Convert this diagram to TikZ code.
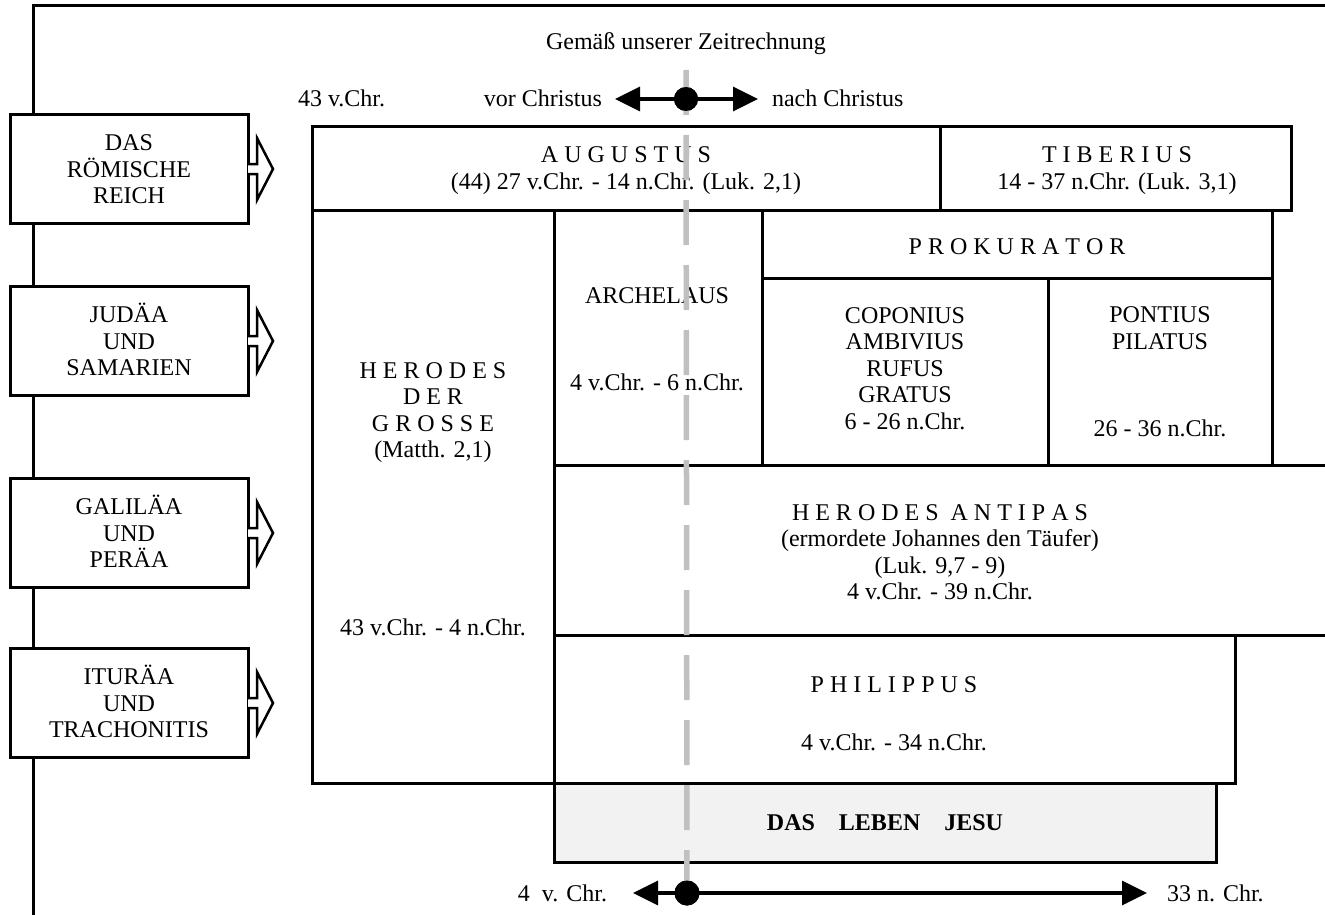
\documentclass[tikz,border=0pt]{standalone}
\usepackage{fontspec}
\setmainfont{Liberation Serif}
\usetikzlibrary{arrows.meta,calc}
\definecolor{dashgray}{HTML}{C0C0C0}
\definecolor{jesufill}{HTML}{F2F2F2}
\newcommand\cellbox[6][]{\node[cell,#1,minimum width={#5pt-#3pt},minimum height={#6pt-#4pt}] (#2) at ({(#3+#5)/2},{(#4+#6)/2}) {};}
\begin{document}
\begin{tikzpicture}[x=1pt,y=-1pt,
  every node/.style={font=\fontsize{24}{26.5}\selectfont, text height=18pt, text depth=2pt, inner sep=0pt, outer sep=0pt, align=center},
  ltwo/.style={text height=44.5pt},
  lthree/.style={text height=71pt},
  lfour/.style={text height=97.5pt},
  lfive/.style={text height=124pt},
  cell/.style={draw=black, line width=3pt, inner sep=0pt, outer sep=0pt},
  region/.style={draw=black, line width=3pt, fill=white, minimum width=238pt, minimum height=109pt, lthree},
  blockarrow/.style={draw=black, line width=2.5pt, fill=white, line join=miter},
  frameline/.style={draw=black, line width=3pt},
  timedash/.style={draw=dashgray, line width=5.5pt, dash pattern=on 45pt off 20pt},
  tarrow/.style={draw=black, line width=3.5pt, -{Triangle[length=25pt,width=24pt]}},
  dot/.style={circle, fill=black, minimum size=24pt, text height=0pt, text depth=0pt}
]
\useasboundingbox (0,0) rectangle (1325,915);

% outer frame
\coordinate (fb) at (33,915);
\coordinate (fc) at (33,6);
\coordinate (fr) at (1325,6);
\draw[frameline] (fb) -- (fc) -- (fr);

% region boxes with hollow arrows
\node[region] (r1) at (129,169) {DAS\\RÖMISCHE\\REICH};
\node[region] (r2) at (129,341) {JUDÄA\\UND\\SAMARIEN};
\node[region] (r3) at (129,533) {GALILÄA\\UND\\PERÄA};
\node[region] (r4) at (129,703) {ITURÄA\\UND\\TRACHONITIS};
\foreach \r in {r1,r2,r3,r4}{
  \draw[blockarrow] ($(\r.east)+(0,-5)$) -- ++(9,0) -- ++(0,-26) -- ++(16,31) -- ++(-16,31) -- ++(0,-26) -- ++(-9,0);
}

% title and top timeline labels
\node (title) at (686,42) {Gemäß unserer Zeitrechnung};
\node[anchor=west] (t43) at (298,99) {43 v.Chr.};
\node[anchor=east] (vor) at (602,99) {vor Christus};
\node[anchor=west] (nach) at (772,99) {nach Christus};

% table cells
\cellbox{aug}{312}{127}{940}{210}
\cellbox{tib}{940}{127}{1291}{210}
\cellbox{her}{312}{210}{554}{783}
\cellbox{arc}{554}{210}{762}{465}
\cellbox{pro}{762}{210}{1272}{278}
\cellbox{cop}{762}{278}{1048}{465}
\cellbox{pon}{1048}{278}{1272}{465}
\cellbox{ant}{554}{465}{1328}{635}
\cellbox{phi}{554}{635}{1235}{783}
\cellbox[fill=jesufill]{jes}{554}{783}{1216}{862}

% cell texts
\node[ltwo] (augT) at (626,168) {A U G U S T U S\\(44) 27 v.Chr. - 14 n.Chr. (Luk. 2,1)};
\node[ltwo] (tibT) at (1117,168) {T I B E R I U S\\14 - 37 n.Chr. (Luk. 3,1)};
\node[lfour] (herT) at (433,410) {H E R O D E S\\D E R\\G R O S S E\\(Matth. 2,1)};
\node (herD) at (433,627) {43 v.Chr. - 4 n.Chr.};
\node (arcT) at (657,295) {ARCHELAUS};
\node (arcD) at (657,382) {4 v.Chr. - 6 n.Chr.};
\node (proT) at (1017,246) {P R O K U R A T O R};
\node[lfive] (copT) at (905,368) {COPONIUS\\AMBIVIUS\\RUFUS\\GRATUS\\6 - 26 n.Chr.};
\node[ltwo] (ponT) at (1160,328) {PONTIUS\\PILATUS};
\node (ponD) at (1160,428) {26 - 36 n.Chr.};
\node[lfour] (antT) at (940,552) {H E R O D E S \ A N T I P A S\\(ermordete Johannes den Täufer)\\(Luk. 9,7 - 9)\\4 v.Chr. - 39 n.Chr.};
\node (phiT) at (894,684) {P H I L I P P U S};
\node (phiD) at (894,742) {4 v.Chr. - 34 n.Chr.};
\node[font=\fontsize{24}{26.5}\selectfont\bfseries] (jesT) at (885,822) {DAS\hspace{24pt}LEBEN\hspace{24pt}JESU};

% bottom labels
\node[anchor=east] (b4) at (607,893) {4~~v. Chr.};
\node[anchor=west] (b33) at (1167,893) {33 n. Chr.};

% dots and arrow ends
\node[dot] (dotA) at (686,99) {};
\node[dot, minimum size=25pt] (dotB) at (687,893) {};
\coordinate (dtop) at (686,70);
\coordinate (aL) at (615,99);
\coordinate (aR) at (758,99);
\coordinate (bL) at (633,893);
\coordinate (bR) at (1147,893);

% gray dashed axis
\draw[timedash] (dtop) -- (dotB.center);

% timeline arrows
\draw[tarrow] (dotA.center) -- (aL);
\draw[tarrow] (dotA.center) -- (aR);
\draw[tarrow] (dotB.center) -- (bL);
\draw[tarrow] (dotB.center) -- (bR);
\node[dot] at (dotA) {};
\node[dot, minimum size=25pt] at (dotB) {};
\end{tikzpicture}
\end{document}
